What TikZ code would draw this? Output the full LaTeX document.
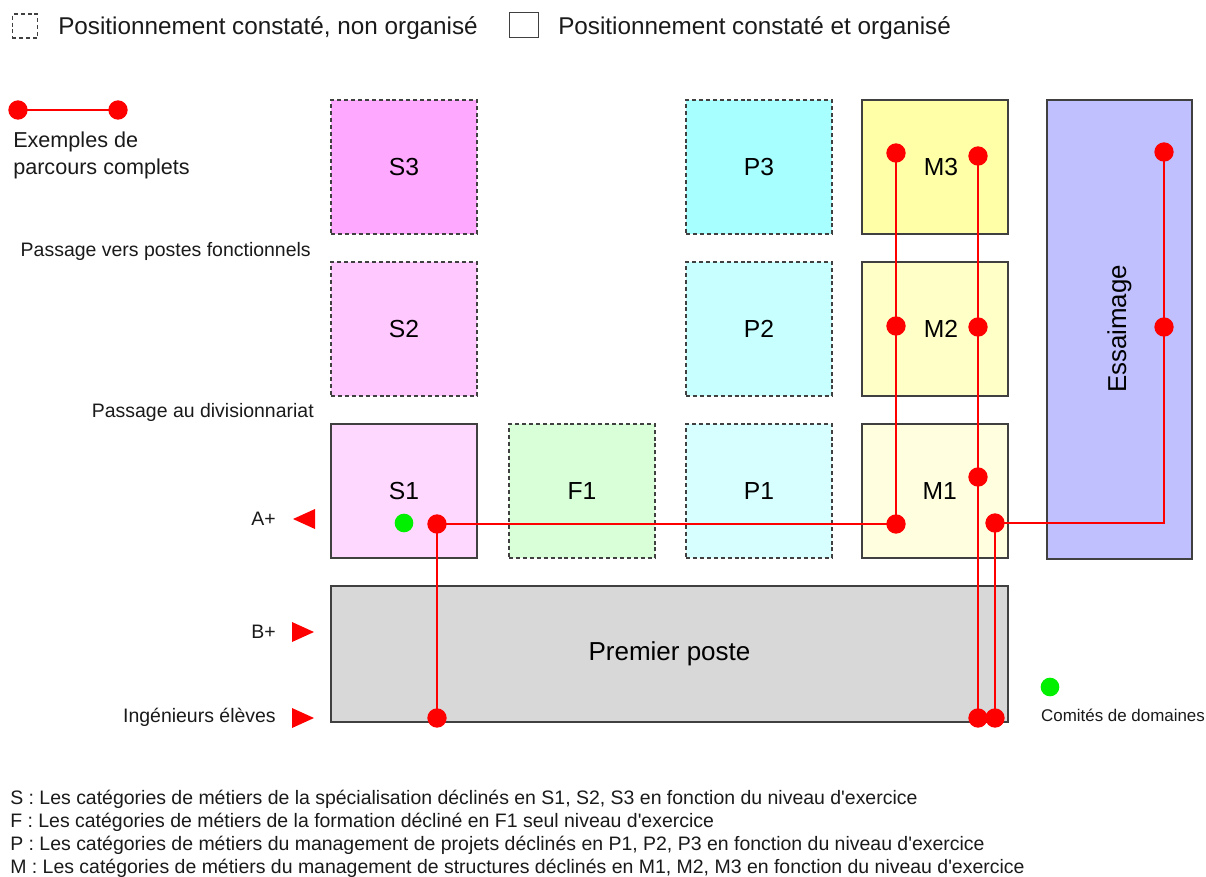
\documentclass[tikz,border=0pt]{standalone}
\usepackage{fontspec}
\setmainfont{Liberation Sans}
\definecolor{txt}{HTML}{1A1A1A}
\definecolor{bord}{HTML}{404040}
\definecolor{cS3}{HTML}{FFA8FF}
\definecolor{cS2}{HTML}{FFC8FF}
\definecolor{cS1}{HTML}{FFD8FF}
\definecolor{cF1}{HTML}{D8FFD8}
\definecolor{cP3}{HTML}{A8FFFF}
\definecolor{cP2}{HTML}{C8FFFF}
\definecolor{cP1}{HTML}{D8FFFF}
\definecolor{cM3}{HTML}{FFFFA8}
\definecolor{cM2}{HTML}{FFFFC8}
\definecolor{cM1}{HTML}{FFFFE0}
\definecolor{cE}{HTML}{C0C0FF}
\definecolor{cPP}{HTML}{D8D8D8}
\definecolor{rouge}{HTML}{FF0000}
\definecolor{vert}{HTML}{00F000}
\begin{document}
\begin{tikzpicture}[x=0.75pt,y=-0.75pt,
  box/.style={draw=bord,line width=1pt,inner sep=0pt,outer sep=0pt,
    minimum width=109.5pt,minimum height=100.5pt,text=black,font=\fontsize{18.5}{20}\selectfont},
  unorg/.style={box,dash pattern=on 3pt off 2.2pt},
  route/.style={draw=rouge,line width=2pt},
  dot/.style={circle,fill=rouge,inner sep=0pt,minimum size=14.5pt},
  gdot/.style={circle,fill=vert,inner sep=0pt,minimum size=14pt},
  lab/.style={text=txt,inner sep=0pt,font=\fontsize{14.6}{16}\selectfont},
  foot/.style={text=txt,inner sep=0pt,anchor=west,font=\fontsize{14.6}{16}\selectfont},
  leg/.style={text=txt,inner sep=0pt,anchor=west,font=\fontsize{18.2}{20}\selectfont}]
\useasboundingbox[fill=white] (0,0) rectangle (1206,877);

% legend top
\node[draw=bord,line width=1pt,dash pattern=on 3pt off 2.2pt,minimum width=19pt,minimum height=18pt,inner sep=0pt] (lgd) at (25,26) {};
\node[leg] (lgdt) at (58,28) {Positionnement constaté, non organisé};
\node[draw=bord,line width=1pt,minimum width=22pt,minimum height=19pt,inner sep=0pt] (lgs) at (524,25) {};
\node[leg] (lgst) at (558,28) {Positionnement constaté et organisé};

% legend route
\coordinate (l1) at (18,110);
\coordinate (l2) at (118,110);
\draw[route] (l1) -- (l2);
\node[dot] at (l1) {};
\node[dot] at (l2) {};
\node[text=txt,inner sep=0pt,anchor=north west,align=left,font=\fontsize{16.2}{20.3}\selectfont] (lgr) at (13,132) {Exemples de\\parcours complets};

% boxes
\node[unorg,fill=cS3] (S3) at (404,167) {S3};
\node[unorg,fill=cS2] (S2) at (404,329) {S2};
\node[box,fill=cS1] (S1) at (404,491) {S1};
\node[unorg,fill=cF1] (F1) at (582,491) {F1};
\node[unorg,fill=cP3] (P3) at (759,167) {P3};
\node[unorg,fill=cP2] (P2) at (759,329) {P2};
\node[unorg,fill=cP1] (P1) at (759,491) {P1};
\node[box,fill=cM3] (M3) at (935,167) {\hspace*{9pt}M3};
\node[box,fill=cM2] (M2) at (935,329) {\hspace*{9pt}M2};
\node[box,fill=cM1] (M1) at (935,491) {\hspace*{7pt}M1};
\node[box,fill=cE,minimum width=108.75pt,minimum height=344.25pt] (E) at (1119.5,329.5) {};
\node[text=black,rotate=90,inner sep=0pt,font=\fontsize{19.4}{21}\selectfont] (Et) at (1119.5,329) {Essaimage};
\node[box,fill=cPP,minimum width=507.75pt,minimum height=102pt,font=\fontsize{19.5}{21}\selectfont] (PP) at (669.5,654) {Premier poste};

% left labels
\node[lab,anchor=east] (pvf) at (311,251) {Passage vers postes fonctionnels};
\node[lab,anchor=east] (pad) at (314,412) {Passage au divisionnariat};
\node[lab,anchor=east] (ap) at (276,519) {A+};
\node[lab,anchor=east] (bp) at (276,632) {B+};
\node[lab,anchor=east] (ie) at (276,717) {Ingénieurs élèves};
\fill[rouge] (293,519) -- (315,509) -- (315,529) -- cycle;
\fill[rouge] (292,622) -- (314,632) -- (292,642) -- cycle;
\fill[rouge] (292,708) -- (314,718) -- (292,728) -- cycle;

% routes
\coordinate (a1) at (437,718);
\coordinate (a2) at (437,524);
\coordinate (a3) at (896,524);
\coordinate (a4) at (896,326);
\coordinate (a5) at (896,153);
\coordinate (b1) at (978,718);
\coordinate (b2) at (978,477);
\coordinate (b3) at (978,327);
\coordinate (b4) at (978,156);
\coordinate (c1) at (995,718);
\coordinate (c2) at (995,523);
\coordinate (cc) at (1164,523);
\coordinate (c3) at (1164,327);
\coordinate (c4) at (1164,152);
\draw[route] (a1) -- (a2) -- (a3) -- (a4) -- (a5);
\draw[route] (b1) -- (b2) -- (b3) -- (b4);
\draw[route] (c1) -- (c2) -- (cc) -- (c3) -- (c4);
\foreach \p in {a1,a2,a3,a4,a5,b1,b2,b3,b4,c1,c2,c3,c4} \node[dot] at (\p) {};

% green dots
\node[gdot] (g1) at (404,523) {};
\node[gdot] (g2) at (1050,687) {};
\node[text=txt,inner sep=0pt,font=\fontsize{12.7}{14}\selectfont] (cd) at (1123,715) {Comités de domaines};

% footnotes
\node[foot] (f1) at (10,799) {S : Les catégories de métiers de la spécialisation déclinés en S1, S2, S3 en fonction du niveau d\textquotesingle exercice};
\node[foot] (f2) at (10,822) {F : Les catégories de métiers de la formation décliné en F1 seul niveau d\textquotesingle exercice};
\node[foot] (f3) at (10,845) {P : Les catégories de métiers du management de projets déclinés en P1, P2, P3 en fonction du niveau d\textquotesingle exercice};
\node[foot] (f4) at (10,868) {M : Les catégories de métiers du management de structures déclinés en M1, M2, M3 en fonction du niveau d\textquotesingle exercice};
\end{tikzpicture}
\end{document}
